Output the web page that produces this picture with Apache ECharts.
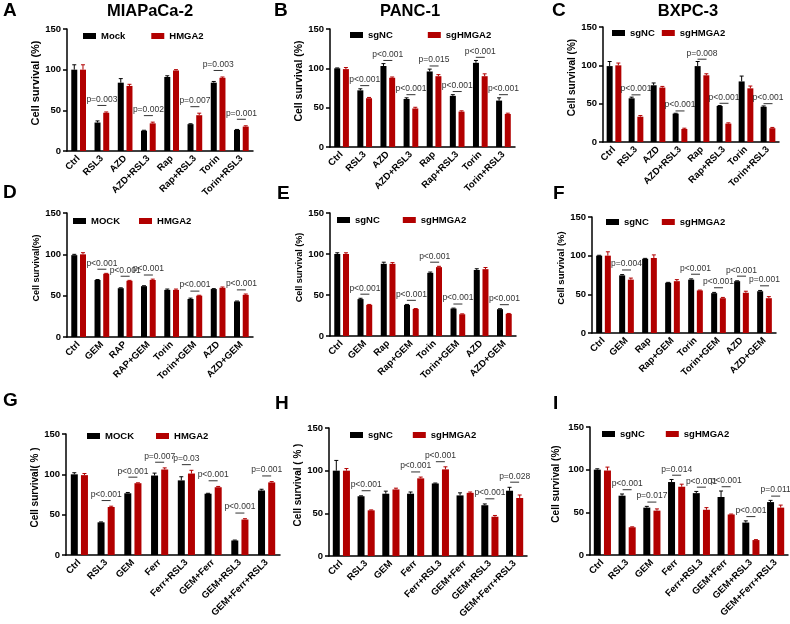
<!DOCTYPE html>
<html><head><meta charset="utf-8">
<script src="https://cdn.jsdelivr.net/npm/echarts@6/dist/echarts.min.js"></script>
<style>html,body{margin:0;padding:0;background:#fff}#c{width:790px;height:624px}</style>
</head><body><div id="c"></div><script>
// ---------- DATA ----------
const catsRSL = ['Ctrl','RSL3','AZD','AZD+RSL3','Rap','Rap+RSL3','Torin','Torin+RSL3'];
const catsD = ['Ctrl','GEM','RAP','RAP+GEM','Torin','Torin+GEM','AZD','AZD+GEM'];
const catsEF = ['Ctrl','GEM','Rap','Rap+GEM','Torin','Torin+GEM','AZD','AZD+GEM'];
const catsFerr = ['Ctrl','RSL3','GEM','Ferr','Ferr+RSL3','GEM+Ferr','GEM+RSL3','GEM+Ferr+RSL3'];
const yTicks = [0, 50, 100, 150];

// A  MIAPaCa-2
const mockA = [100,35,84,25,91,33,84,26];
const mockAErr = [6,2,5,0.5,1.5,0.5,1.5,0.5];
const hmgaA = [100,47,80,34,99,44,90,30];
const hmgaAErr = [6,1,2,1.5,1,2.5,1,1];
const pA = ['','p=0.003','','p=0.002','','p=0.007','p=0.003','p=0.001'];
// B  PANC-1
const ncB = [100,72,103,61,96,65,107,59];
const ncBErr = [0.5,2,3,1.5,3,1.5,3,3.5];
const sgB = [99,62,88,49,90,45,90,42];
const sgBErr = [2,1,1,1.5,2,1,3,1];
const pB = ['','p<0.001','p<0.001','p<0.001','p=0.015','p<0.001','p<0.001','p<0.001'];
// C  BXPC-3
const ncC = [99,57,74,37,99,47,79,46];
const ncCErr = [6,1.5,3,0.5,6,0.5,7,1];
const sgC = [100,33,71,17,87,24,70,18];
const sgCErr = [3,1.5,1.5,1,2,1,3,1];
const pC = ['','p<0.001','','p<0.001','p=0.008','p<0.001','','p<0.001'];
// D
const mockD = [99,69,59,61.5,57,46,58,43];
const mockDErr = [1,0.5,0.5,0.5,1,1,0.5,0.5];
const hmgaD = [100,76.5,68,69,57,50,59.5,51];
const hmgaDErr = [2,0.5,0.5,1,1,0.5,1,1];
const pD = ['','p<0.001','p<0.001','p<0.001','','p<0.001','','p<0.001'];
// E
const ncE = [100,45,88,38,77,33.5,80.5,32.7];
const ncEErr = [1.5,1,2,0.5,1,0.5,1.5,0.5];
const sgE = [100,38,88,33,84,26.5,81.5,27];
const sgEErr = [1.5,0.5,1.5,0.5,1,0.5,2,0.5];
const pE = ['','p<0.001','','p<0.001','p<0.001','p<0.001','','p<0.001'];
// F
const ncF = [100,74.5,96,65,69,51.5,67,54];
const ncFErr = [0.5,1,0.5,0.5,1,1,0.5,1];
const sgF = [100,69,97,67,55,45,52,45];
const sgFErr = [5,2,4,2,0.5,1,2,2];
const pF = ['','p=0.004','','','p<0.001','p<0.001','p<0.001','p=0.001'];
// G
const mockG = [100,40.5,76.5,98.5,92.5,76,18,80];
const mockGErr = [2,0.5,1,3,4.5,0.5,0.5,1.5];
const hmgaG = [99,59.5,89,106,101,84,44,90];
const hmgaGErr = [2,1,0.5,2,4,1,1,1];
const pG = ['','p<0.001','p<0.001','p=0.007','p=0.03','p<0.001','p<0.001','p=0.001'];
// H
const ncH = [100,70,73,73,85,71,59.5,76.5];
const ncHErr = [12,0.5,3,2,0.5,3,1.5,4];
const sgH = [100,53.5,78,91,101.5,74,46,68];
const sgHErr = [2.5,0.5,1.5,1.5,3,1,1.5,3.5];
const pH = ['','p<0.001','','p<0.001','p<0.001','','p<0.001','p=0.028'];
// I
const ncI = [100,69.5,55.5,85.5,72.5,68,38,62];
const ncIErr = [1,2,1.5,3,2,7,2,2];
const sgI = [99,32.5,52,80,53,47.5,17.5,55.5];
const sgIErr = [4,0.5,2,3,2.5,0.5,0.5,3];
const pI = ['','p<0.001','p=0.017','p=0.014','p<0.001','p<0.001','p<0.001','p=0.011'];

// ---------- LAYOUT / STYLE ----------
const BLACK = '#000000', RED = '#b20000';
const FONT = 'Liberation Sans, Arial, sans-serif';
const panels = [
 {cats:catsRSL, n1:'Mock', n2:'HMGA2', v1:mockA, e1:mockAErr, v2:hmgaA, e2:hmgaAErr, p:pA,
  g:{left:67,top:29,width:186,height:122}, bw:6, off:8, yName:'Cell survival (%)', yFs:11, yGap:23, lg:{left:83,top:31,gap:26}},
 {cats:catsRSL, n1:'sgNC', n2:'sgHMGA2', v1:ncB, e1:ncBErr, v2:sgB, e2:sgBErr, p:pB,
  g:{left:330,top:29,width:185,height:118}, bw:6, off:4, yName:'Cell survival (%)', yFs:10.5, yGap:24, lg:{left:350,top:30,gap:35}},
 {cats:catsRSL, n1:'sgNC', n2:'sgHMGA2', v1:ncC, e1:ncCErr, v2:sgC, e2:sgCErr, p:pC,
  g:{left:603,top:27,width:176,height:115}, bw:6, off:3, yName:'Cell survival (%)', yFs:10, yGap:23, lg:{left:612,top:28,gap:7}},
 {cats:catsD, n1:'MOCK', n2:'HMGA2', v1:mockD, e1:mockDErr, v2:hmgaD, e2:hmgaDErr, p:pD,
  g:{left:67,top:213,width:186,height:124}, bw:6, off:5, yName:'Cell survival(%)', yFs:9, yGap:22, lg:{left:73,top:216,gap:19}},
 {cats:catsEF, n1:'sgNC', n2:'sgHMGA2', v1:ncE, e1:ncEErr, v2:sgE, e2:sgEErr, p:pE,
  g:{left:330,top:213,width:186,height:123}, bw:6, off:5, yName:'Cell survival (%)', yFs:9, yGap:23, lg:{left:337,top:215,gap:23}},
 {cats:catsEF, n1:'sgNC', n2:'sgHMGA2', v1:ncF, e1:ncFErr, v2:sgF, e2:sgFErr, p:pF,
  g:{left:592,top:217,width:184,height:116}, bw:6, off:6, yName:'Cell survival (%)', yFs:9.5, yGap:22, lg:{left:606,top:217,gap:13}},
 {cats:catsFerr, n1:'MOCK', n2:'HMGA2', v1:mockG, e1:mockGErr, v2:hmgaG, e2:hmgaGErr, p:pG,
  g:{left:66,top:434,width:214,height:121}, bw:7, off:7, yName:'Cell survival( % )', yFs:10, yGap:25, lg:{left:87,top:431,gap:22}},
 {cats:catsFerr, n1:'sgNC', n2:'sgHMGA2', v1:ncH, e1:ncHErr, v2:sgH, e2:sgHErr, p:pH,
  g:{left:329,top:428,width:198,height:128}, bw:7, off:6, yName:'Cell survival ( % )', yFs:10, yGap:21, lg:{left:350,top:430,gap:20}},
 {cats:catsFerr, n1:'sgNC', n2:'sgHMGA2', v1:ncI, e1:ncIErr, v2:sgI, e2:sgIErr, p:pI,
  g:{left:590,top:427,width:198,height:128}, bw:7, off:5, yName:'Cell survival (%)', yFs:10, yGap:29, lg:{left:602,top:429,gap:21}}
];
const letters = [['A',3,1],['B',274,1],['C',552,1],['D',3,183],['E',277,184],['F',553,184],['G',3,391],['H',275,394],['I',553,394]];
const titles = [['MIAPaCa-2',150,11],['PANC-1',410,11],['BXPC-3',688,11]];

const option = {animation:false, textStyle:{fontFamily:FONT},
  grid:[], xAxis:[], yAxis:[], series:[], legend:[], graphic:[]};

function errSeries(i, cats, vals, errs, dir, bw, color){
  const off = dir * bw * 1.45 / 2;
  return {type:'custom', name:'err'+i+dir, xAxisIndex:i, yAxisIndex:i, z:3, silent:true,
    data: cats.map((c,j)=>[j, vals[j], errs[j]]),
    renderItem:(params, api)=>{
      const x = api.coord([api.value(0), 0])[0] + off;
      const y0 = api.coord([0, api.value(1)])[1];
      const y1 = api.coord([0, api.value(1)+api.value(2)])[1];
      const st = {stroke:color, lineWidth:1};
      return {type:'group', children:[
        {type:'line', shape:{x1:x,y1:y0,x2:x,y2:y1}, style:st},
        {type:'line', shape:{x1:x-2,y1:y1,x2:x+2,y2:y1}, style:st}
      ]};
    }};
}

panels.forEach((P, i)=>{
  option.grid.push(Object.assign({containLabel:false}, P.g));
  option.xAxis.push({type:'category', gridIndex:i, data:P.cats,
    axisLine:{lineStyle:{color:'#000',width:1.5}},
    axisTick:{alignWithLabel:true,length:4,lineStyle:{color:'#000',width:1.5}},
    axisLabel:{rotate:45, interval:0, fontSize:9.5, fontWeight:'bold', color:'#000', margin:6, fontFamily:FONT}});
  option.yAxis.push({type:'value', gridIndex:i, min:yTicks[0], max:yTicks[yTicks.length-1], interval:50,
    axisLine:{show:true,lineStyle:{color:'#000',width:1.5}},
    axisTick:{show:true,length:4,lineStyle:{color:'#000',width:1.5}},
    splitLine:{show:false},
    axisLabel:{fontSize:9.5, fontWeight:'bold', color:'#000', margin:6, fontFamily:FONT},
    name:P.yName, nameLocation:'middle', nameGap:P.yGap,
    nameTextStyle:{fontSize:P.yFs, fontWeight:'bold', color:'#000', fontFamily:FONT, padding:[0,0,0,14]}});
  option.series.push({type:'bar', name:P.n1, xAxisIndex:i, yAxisIndex:i, data:P.v1, barWidth:P.bw, barGap:'45%', itemStyle:{color:BLACK}});
  option.series.push({type:'bar', name:P.n2, xAxisIndex:i, yAxisIndex:i, data:P.v2, barWidth:P.bw, barGap:'45%', itemStyle:{color:RED}});
  option.series.push(errSeries(i, P.cats, P.v1, P.e1, -1, P.bw, BLACK));
  option.series.push(errSeries(i, P.cats, P.v2, P.e2, 1, P.bw, RED));
  const ann = [], annTxt = [];
  P.p.forEach((t,j)=>{ if(t){ ann.push([j, Math.max(P.v1[j]+P.e1[j], P.v2[j]+P.e2[j]) + P.off]); annTxt.push(t);} });
  option.series.push({type:'custom', name:'p'+i, xAxisIndex:i, yAxisIndex:i, z:4, silent:true, data:ann,
    renderItem:(params, api)=>{
      const pt = api.coord([api.value(0), api.value(1)]);
      return {type:'group', children:[
        {type:'line', shape:{x1:pt[0]-4.5,y1:pt[1],x2:pt[0]+4.5,y2:pt[1]}, style:{stroke:'#333',lineWidth:1}},
        {type:'text', x:pt[0], y:pt[1]-1.5, style:{text:annTxt[params.dataIndex], fill:'#333', fontSize:8.5, fontFamily:FONT,
          align:'center', verticalAlign:'bottom', textAlign:'center', textVerticalAlign:'bottom'}}
      ]};
    }});
  option.legend.push({data:[P.n1, P.n2], left:P.lg.left, top:P.lg.top, orient:'horizontal', icon:'rect',
    itemWidth:13, itemHeight:6, itemGap:P.lg.gap, selectedMode:false, padding:0,
    textStyle:{fontSize:9.5, fontWeight:'bold', color:'#000', fontFamily:FONT}});
});
letters.forEach(([t,x,y])=>option.graphic.push({type:'text', x:x, y:y, style:{text:t, fill:'#000', fontSize:19, fontWeight:'bold', fontFamily:FONT, verticalAlign:'top', textVerticalAlign:'top'}}));
titles.forEach(([t,x,y])=>option.graphic.push({type:'text', x:x, y:y, style:{text:t, fill:'#000', fontSize:16.5, fontWeight:'bold', fontFamily:FONT, align:'center', textAlign:'center', verticalAlign:'middle', textVerticalAlign:'middle'}}));

const chart = echarts.init(document.getElementById('c'), null, {renderer:'canvas'});
chart.setOption(option);
</script></body></html>
